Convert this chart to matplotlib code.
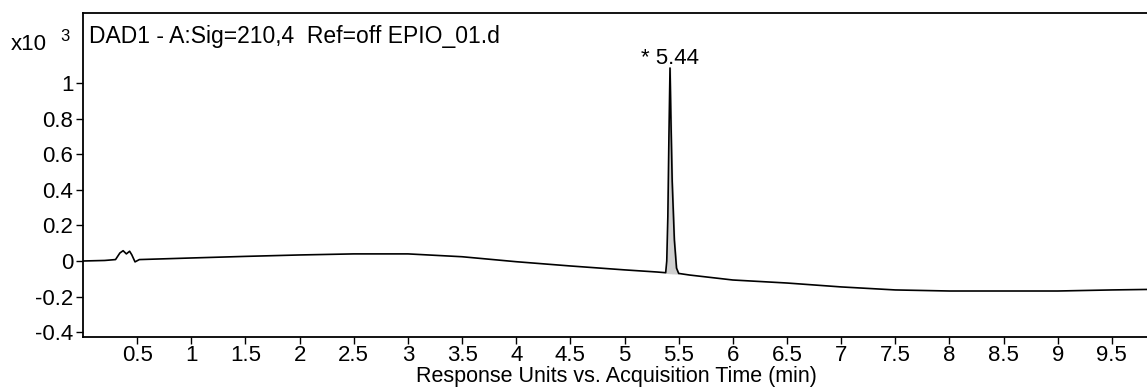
import numpy as np
import matplotlib.pyplot as plt

plt.rcParams['font.family'] = ['Liberation Sans', 'DejaVu Sans']

# trace (time in min, response x10^3)
time = [0.0, 0.2, 0.3, 0.34, 0.37, 0.40, 0.43, 0.45, 0.48, 0.52, 1.0, 1.5, 2.0, 2.5,
        3.0, 3.5, 4.0, 4.5, 5.0, 5.30, 5.38, 5.39, 5.40, 5.41, 5.42, 5.43, 5.44,
        5.46, 5.48, 5.50, 5.6, 6.0, 6.5, 7.0, 7.5, 8.0, 8.5, 9.0, 9.5, 9.85]
response = [0.0, 0.003, 0.008, 0.045, 0.058, 0.040, 0.055, 0.035, -0.005, 0.008, 0.017,
            0.026, 0.034, 0.040, 0.040, 0.024, -0.004, -0.028, -0.050, -0.062, -0.066,
            0.0, 0.25, 0.70, 1.087, 0.75, 0.45, 0.12, -0.04, -0.070, -0.079, -0.107,
            -0.124, -0.146, -0.163, -0.169, -0.169, -0.169, -0.163, -0.160]

# peak region for the shaded area
peak_t = [5.38, 5.39, 5.40, 5.41, 5.42, 5.43, 5.44, 5.46, 5.48, 5.50]
peak_base = [-0.066, -0.066, -0.067, -0.067, -0.068, -0.068, -0.069, -0.069, -0.070, -0.070]

xticks = [0.5, 1, 1.5, 2, 2.5, 3, 3.5, 4, 4.5, 5, 5.5, 6, 6.5, 7, 7.5, 8, 8.5, 9, 9.5]
xlabels = ['0.5', '1', '1.5', '2', '2.5', '3', '3.5', '4', '4.5', '5', '5.5', '6',
           '6.5', '7', '7.5', '8', '8.5', '9', '9.5']
yticks = [-0.4, -0.2, 0, 0.2, 0.4, 0.6, 0.8, 1]
ylabels = ['-0.4', '-0.2', '0', '0.2', '0.4', '0.6', '0.8', '1']

fig = plt.figure(figsize=(11.47, 3.89), dpi=100)
ax = fig.add_axes([0.0724, 0.1337, 0.93, 0.833])

ax.plot(time, response, color='black', lw=1.2)
peak_y = np.interp(peak_t, time, response)
ax.fill_between(peak_t, peak_base, peak_y, color='#cfcfcf', zorder=1)

ax.set_xlim(0, 9.85)
ax.set_ylim(-0.428, 1.397)
ax.set_xticks(xticks)
ax.set_xticklabels(xlabels)
ax.set_yticks(yticks)
ax.set_yticklabels(ylabels)
ax.tick_params(labelsize=16, length=5, width=1, direction='out', pad=2)
ax.tick_params(axis='x', pad=1)
for s in ax.spines.values():
    s.set_linewidth(1.3)
ax.spines['right'].set_visible(False)

ax.set_xlabel('Response Units vs. Acquisition Time (min)', fontsize=15.5, labelpad=0)
ax.text(0.006, 0.962, 'DAD1 - A:Sig=210,4  Ref=off EPIO_01.d', transform=ax.transAxes,
        fontsize=16.5, va='top', ha='left')
fig.text(0.009, 0.872, 'x10', fontsize=16, va='baseline', ha='left')
fig.text(0.053, 0.895, '3', fontsize=12, va='baseline', ha='left')
ax.annotate('* 5.44', xy=(5.42, 1.087), xytext=(0, -1), textcoords='offset points',
            ha='center', va='bottom', fontsize=16)

plt.savefig('out.png', dpi=100)
